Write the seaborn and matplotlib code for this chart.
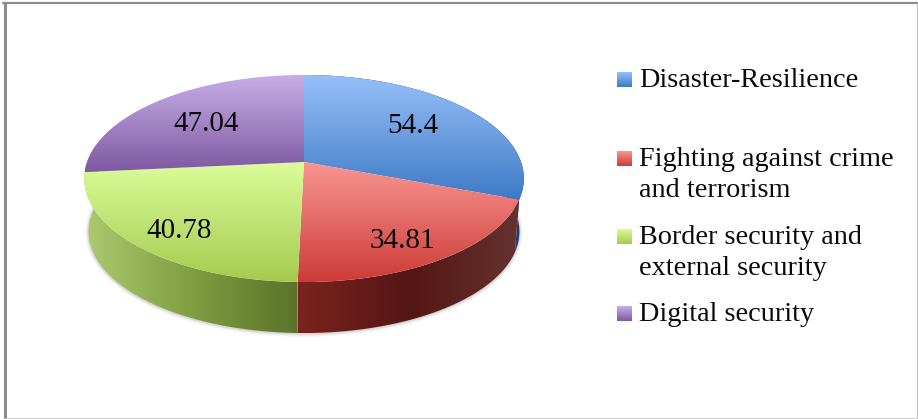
import numpy as np
import seaborn as sns
import matplotlib
matplotlib.use("Agg")
import matplotlib.pyplot as plt
from matplotlib.patches import Polygon

categories = ["Disaster-Resilience", "Fighting against crime\nand terrorism",
              "Border security and\nexternal security", "Digital security"]
values = [54.4, 34.81, 40.78, 47.04]
value_labels = ["54.4", "34.81", "40.78", "47.04"]

top_colors = [("#97BFF8", "#3D7AC6"), ("#F99692", "#CD3B37"),
              ("#DBFC9A", "#A4CB4E"), ("#C8AFE8", "#7E58A2")]
side_colors = [["#1F3F6B", "#1F3F6B"], ["#7C231E", "#541614", "#66322F"],
               ["#ADCA70", "#7F9F41", "#5A732A"]]

sns.set_theme(style="white")
plt.rcParams["font.family"] = ["Liberation Serif", "DejaVu Serif"]

W, H = 918, 419
fig = plt.figure(figsize=(W / 100, H / 100), dpi=100, facecolor="white")
ax = fig.add_axes([0, 0, 1, 1])

wedges, _ = ax.pie(values, startangle=90, counterclock=False, radius=1)
thetas = [(w.theta1, w.theta2) for w in wedges]
for w in wedges:
    w.set_visible(False)

# everything below is placed in pixels of the picture
ax.set_aspect("auto")
ax.set_xlim(0, W)
ax.set_ylim(H, 0)


def project(deg, scale=1.0, drop=0.0):
    # unit circle seen in perspective, nearer edge looks bigger
    t = np.radians(deg)
    x, y = np.cos(t), np.sin(t)
    d = 1 + 0.1594 * y
    return np.column_stack([304 + scale * 217 * x / d,
                            162 + drop - scale * 100.9 * y / d])


def fill_gradient(xy, colors, horizontal=False, zorder=2):
    patch = Polygon(xy, closed=True, transform=ax.transData, fc="none", ec="none")
    x0, y0 = xy.min(axis=0)
    x1, y1 = xy.max(axis=0)
    cmap = sns.blend_palette(colors, as_cmap=True)
    ramp = np.linspace(0, 1, 256)
    grad = ramp[None, :] if horizontal else ramp[:, None]
    im = ax.imshow(grad, cmap=cmap, extent=(x0, x1, y1, y0), origin="upper",
                   aspect="auto", zorder=zorder, interpolation="bilinear")
    im.set_clip_path(patch)


# soft shadow under the disc
low = project(np.linspace(-195, 15, 200), 0.98, 53.4)
for lw, a in [(5, 0.05), (3, 0.08), (1.5, 0.12)]:
    ax.plot(low[:, 0], low[:, 1] + 0.5, color="#555555", lw=lw, alpha=a, zorder=1,
            solid_capstyle="round")

# side walls, back ones first so the front ones cover them
# the purple wall never shows, the green one wraps round the left end
for i in [0, 2, 1]:
    t1, t2 = thetas[i]
    if i == 2:
        t1 -= 16
    arc = np.linspace(t1, t2, 160)
    xy = np.vstack([project(arc), project(arc[::-1], 0.98, 53.4)])
    fill_gradient(xy, side_colors[i], horizontal=True, zorder=2 + i * 0.1)

# top faces
for i, (t1, t2) in enumerate(thetas):
    rim = project(np.linspace(t1, t2, 200))
    xy = np.vstack([[[304, 162]], rim])
    fill_gradient(xy, top_colors[i], zorder=3)

label_xy = [(413, 126), (402, 241), (179, 231), (206, 124)]
for txt, (x, y) in zip(value_labels, label_xy):
    ax.text(x, y, txt, ha="center", va="center", fontsize=21, color="#0A0A0A", zorder=5)

# legend, entries are not evenly spaced in the original
legend_y = [87, 166, 244, 321]
line_step = 31
for name, y, c in zip(categories, legend_y, top_colors):
    sq = np.array([[617, y - 15], [632, y - 15], [632, y], [617, y]])
    fill_gradient(sq, c, zorder=4)
    # baseline of a wrapped label is that of its last line
    ax.text(639, y + line_step * name.count("\n"), name, ha="left", va="baseline",
            fontsize=20.3, color="#0A0A0A", linespacing=1.32, zorder=5)

# chart frame
ax.plot([4.5, 4.5], [3, H], color="#8C8C8C", lw=2.2, zorder=6)
ax.plot([3, W], [3, 3], color="#8C8C8C", lw=1.6, zorder=6)
ax.plot([917.5, 917.5], [3, H], color="#B4B4B4", lw=1.2, zorder=6)
ax.plot([4, W], [418.5, 418.5], color="#C8C8C8", lw=1.2, zorder=6)

ax.axis("off")
ax.set_xlim(0, W)
ax.set_ylim(H, 0)
fig.savefig("out.png", dpi=100, facecolor="white")
plt.close(fig)
